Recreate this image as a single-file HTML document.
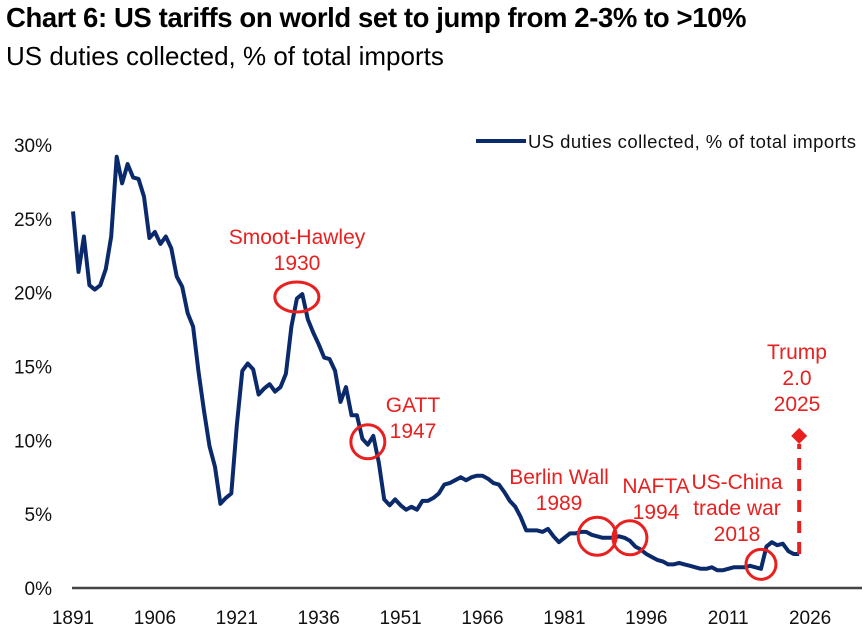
<!DOCTYPE html>
<html><head><meta charset="utf-8"><style>
body{margin:0;background:#fff;width:866px;height:636px;overflow:hidden;font-family:"Liberation Sans",sans-serif}
#title{position:absolute;left:6px;top:2px;font-size:27.5px;font-weight:bold;color:#000;letter-spacing:-0.4px;white-space:nowrap}
#sub{position:absolute;left:6px;top:41px;font-size:26px;color:#000;white-space:nowrap}
svg{position:absolute;left:0;top:0}
</style></head><body>
<div id="title">Chart 6: US tariffs on world set to jump from 2-3% to &gt;10%</div>
<div id="sub">US duties collected, % of total imports</div>
<svg id="c" width="866" height="636"></svg>
<script>
const startYear = 1891;
const values = [
25.5,21.4,23.8,20.5,20.2,20.5,21.6,23.8,29.2,27.4,
28.7,27.8,27.7,26.5,23.7,24.1,23.3,23.8,23.0,21.1,
20.4,18.6,17.7,14.6,12.0,9.6,8.2,5.7,6.1,6.4,
11.0,14.7,15.2,14.8,13.1,13.5,13.8,13.3,13.6,14.5,
17.7,19.6,19.9,18.2,17.3,16.5,15.6,15.5,14.7,12.6,
13.6,11.7,11.7,10.1,9.7,10.3,8.5,6.0,5.6,6.0,
5.6,5.3,5.5,5.3,5.9,5.9,6.1,6.4,7.0,7.1,
7.3,7.5,7.3,7.5,7.6,7.6,7.4,7.1,7.0,6.5,
5.9,5.5,4.8,3.9,3.9,3.9,3.8,4.0,3.5,3.1,
3.4,3.7,3.7,3.8,3.8,3.6,3.5,3.4,3.4,3.4,
3.5,3.4,3.2,2.8,2.6,2.3,2.1,1.9,1.8,1.6,
1.6,1.7,1.6,1.5,1.4,1.3,1.3,1.4,1.2,1.2,
1.3,1.4,1.4,1.4,1.5,1.4,1.3,2.8,3.1,2.9,
3.0,2.5,2.3,2.3];
const projYear = 2024;
const projValue = 10.3;
const yTicks = [0,5,10,15,20,25,30];
const xTicks = [1891,1906,1921,1936,1951,1966,1981,1996,2011,2026];
const annotations = [
 {name:'smoot-hawley', lines:['Smoot-Hawley','1930'], year:1932, val:19.7, rx:22, ry:15, tx:297, ty:244},
 {name:'gatt', lines:['GATT','1947'], year:1945, val:9.9, rx:17, ry:17, tx:413, ty:412},
 {name:'berlin-wall', lines:['Berlin Wall','1989'], year:1987, val:3.5, rx:19, ry:19, tx:559, ty:484},
 {name:'nafta', lines:['NAFTA','1994'], year:1993, val:3.4, rx:17, ry:17, tx:656, ty:493},
 {name:'us-china', lines:['US-China','trade war','2018'], year:2017, val:1.6, rx:15, ry:15, tx:737, ty:489},
 {name:'trump', lines:['Trump','2.0','2025'], year:null, val:null, tx:797, ty:359}
];
const NS='http://www.w3.org/2000/svg';
const svg=document.getElementById('c');
const X=y=>73+(y-1891)*5.46;
const Y=v=>588-v*14.77;
function mk(t,a,p){const e=document.createElementNS(NS,t);for(const k in a)e.setAttribute(k,a[k]);(p||svg).appendChild(e);return e;}
yTicks.forEach(v=>{const t=mk('text',{x:52,y:Y(v)+7,'text-anchor':'end','font-size':19,fill:'#111'});t.textContent=v+'%';

});
xTicks.forEach(yr=>{const t=mk('text',{x:X(yr),y:624,'text-anchor':'middle','font-size':19,fill:'#111'});t.textContent=yr;

});
const ax=mk('line',{x1:72,x2:862,y1:588,y2:588,stroke:'#444','stroke-width':2.5});


const pts=values.map((v,i)=>X(startYear+i).toFixed(1)+','+Y(v).toFixed(1)).join(' ');
const pl=mk('polyline',{points:pts,fill:'none',stroke:'#0b2a6b','stroke-width':4,'stroke-linejoin':'round'});


const lastV=values[values.length-1];
const px=X(projYear),py=Y(projValue);
const dl=mk('line',{x1:px,x2:px,y1:Y(lastV),y2:py+8,stroke:'#e8201f','stroke-width':4,'stroke-dasharray':'12,9'});


const dm=mk('polygon',{points:`${px},${py-8} ${px+8},${py} ${px},${py+8} ${px-8},${py}`,fill:'#e8201f'});


annotations.forEach(a=>{
 if(a.year!==null){const c=mk('ellipse',{cx:X(a.year),cy:Y(a.val),rx:a.rx,ry:a.ry,fill:'none',stroke:'#e8201f','stroke-width':3});
 
 }
 const t=mk('text',{x:a.tx,y:a.ty,'text-anchor':'middle','font-size':21,fill:'#e8201f'});
 
 
 a.lines.forEach((s,i)=>{const ts=mk('tspan',{x:a.tx,dy:i?26:0},t);ts.textContent=s;});
});
const lg=mk('line',{x1:476,x2:526,y1:141,y2:141,stroke:'#0b2a6b','stroke-width':4});


const lt=mk('text',{x:528,y:148,'font-size':18.5,fill:'#111',textLength:328});lt.textContent='US duties collected, % of total imports';


</script>
</body></html>
